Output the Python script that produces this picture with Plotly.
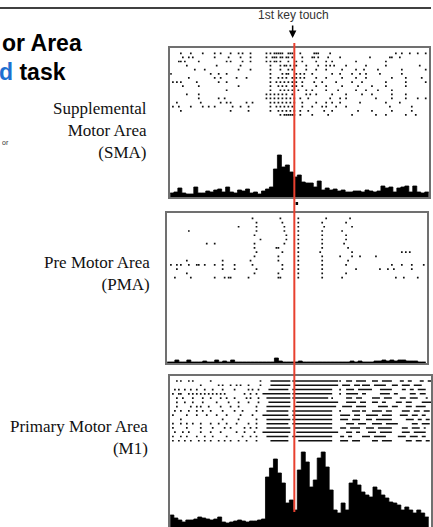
import plotly.graph_objects as go

W, H = 433, 527

# ---------------- data ----------------
T0 = -1240      # ms, time of raster bin 0 (relative to 1st key touch)
BIN = 20        # ms per raster bin
HBIN = 40       # ms per histogram bin

# Supplemental Motor Area: spike bins per trial
sma_rows = [
    [5,10,16,22,25,30,34,36,40,48,50,52,53,54,55,56,59,60,61,65,72,73,74,80,113,116,120,124,128],
    [6,9,11,22,29,35,40,48,51,52,53,55,56,58,59,61,66,71,72,74,79,85,100,110,111,115],
    [4,5,7,14,28,30,36,40,48,50,52,53,55,59,63,66,73,78,81,93,108],
    [8,23,35,50,55,57,58,60,62,63,68,74,78,80,82,88,98,108,125],
    [12,17,34,40,50,55,59,61,68,73,78,86,93,97,104,116,128],
    [0,20,24,28,50,56,58,59,63,65,67,71,81,85,91,95,98,105,116],
    [9,22,25,33,38,50,54,56,58,61,63,65,67,73,78,86,93,98,111,118,126],
    [1,3,5,13,24,28,50,53,55,57,59,61,63,66,72,76,83,91,96,108,118,128],
    [6,14,34,50,54,56,58,61,63,66,73,78,86,94,101,108,118],
    [28,50,55,57,59,61,64,68,71,78,84,93,98,104,111],
    [8,14,48,50,52,54,56,58,61,68,70,73,81,88,96,101,111,118],
    [14,24,27,48,50,52,54,56,58,60,62,65,69,80,85,88,103,111,118,124,128],
    [3,15,25,28,30,38,41,50,52,54,56,58,60,62,66,73,78,81,85,95,108,115],
    [1,4,10,16,19,22,31,35,39,50,53,55,57,59,61,66,71,76,78,83,88,110,121],
    [5,30,39,50,54,56,58,60,62,65,69,77,81,94,101,111,121],
    [55,57,58,59,60,61,62,65,71,79,91,103,108,118,123],
]
sma_hist_start = -1250
sma_hist = [4,5,9,4,3,3,10,4,4,6, 5,7,8,5,10,5,4,7,6,8,
            4,5,3,6,8,10,28,42,30,32, 25,20,22,15,14,14,10,16,7,9,
            7,8,6,7,5,5,6,6,5,7, 6,5,6,11,9,10,5,9,10,11, 5,11,5,4,5]

# Pre Motor Area
pma_rows = [
    [41,55,64,78,90],
    [43,56,64,76,88],
    [34,43,57,64,77,91],
    [9,43,57,64,76,86],
    [42,58,64,76,88],
    [45,58,64,76,88],
    [18,22,42,57,64,76,87],
    [42,53,54,64,76,89],
    [43,56,64,75,91,116,118,120],
    [42,54,64,76,85,91,95,103],
    [8,26,40,54,64,76,89],
    [0,3,5,9,13,14,17,22,26,32,41,56,64,76,88,111,116,121,127],
    [3,26,32,43,56,64,76,93,105,109,112,121],
    [8,42,54,64,76,88],
    [2,10,22,27,29,30,39,54,55,64,76,86,113,117,124],
]
pma_hist_start = -1280
pma_hist = [1,1,3,1,1,3,1,1,1,2, 1,1,3,1,2,1,3,1,1,1,
            1,1,1,1,1,1,1,5,2,1, 1,1,1,2,1,1,1,1,1,1,
            1,1,1,1,1,1,2,1,2,1, 1,1,2,2,3,2,3,2,3,3, 2,2,2,1,1]

# Primary Motor Area: isolated spikes and bursts (start bin, end bin)
m1_dots = [
    [3,5,9,11,20,45,85],
    [15,24,26,30,33,35,39,45],
    [2,4,7,10,13,17,21,26,32,39,41,44,85],
    [1,4,5,9,11,13,15,17,19,21,23,25,27,37,40,43,85],
    [3,6,11,16,20,25,28,32,38,40,44,81],
    [3,7,11,16,23,29,34,39,44],
    [3,10,13,15,19,25,30,34,43],
    [2,5,9,13,16,20,26,32,36,43,85],
    [1,8,13,18,23,28,35,41],
    [5,26,34,43],
    [1,5,8,11,15,20,24,28,33,39,43],
    [1,8,15,21,27,30,37,40,43],
    [2,6,9,15,20,25,33,37,42],
    [1,5,8,13,17,21,28,36,40,43],
    [1,4,7,10,14,17,20,24,27,30,34,38,43],
]
m1_bursts = [
    [(50,60),(61,84),(88,91),(93,98),(101,104),(106,111),(115,117),(119,121),(125,127),(129,131)],
    [(50,60),(62,84),(86,90),(92,95),(96,100),(102,108),(111,114),(116,120),(122,126)],
    [(49,59),(61,81),(88,92),(94,101),(105,111),(116,118),(120,122),(124,128)],
    [(46,60),(61,81),(88,94),(96,98),(105,110),(112,114),(120,123),(125,128)],
    [(48,60),(61,79),(88,91),(93,96),(101,105),(107,111),(115,118),(120,124),(128,129)],
    [(49,60),(63,84),(88,93),(95,98),(101,104),(106,108),(113,116),(118,121),(126,131)],
    [(48,60),(62,83),(86,91),(93,98),(104,109),(111,114),(118,121),(123,128)],
    [(48,59),(61,81),(91,95),(96,98),(101,106),(108,111),(116,120),(122,125),(127,130)],
    [(46,59),(61,81),(85,90),(92,95),(98,104),(106,111),(115,119),(121,124),(126,128)],
    [(48,60),(61,81),(85,89),(91,95),(98,101),(103,111),(118,122),(124,126),(128,130)],
    [(48,59),(61,81),(88,92),(94,98),(101,106),(108,114),(121,124),(126,130)],
    [(48,60),(62,81),(85,88),(90,95),(98,102),(104,111),(116,119),(121,125),(127,128)],
    [(46,60),(63,84),(88,91),(93,95),(99,103),(105,111),(116,120),(122,128)],
    [(48,59),(61,81),(85,87),(89,91),(96,100),(102,108),(114,118),(120,124),(126,128)],
    [(50,59),(64,81),(85,89),(91,95),(101,104),(106,111),(118,121),(123,126),(128,130)],
]
m1_hist_start = -1250
m1_hist = [12,9,7,5,7,7,8,10,9,8, 7,8,10,5,4,5,6,7,6,5,
           6,6,7,8,50,59,68,54,44,24, 27,17,57,75,65,40,47,69,75,60,
           37,17,14,24,17,44,47,42,35,32, 30,40,37,32,29,25,24,22,17,20, 17,14,17,14,10]

area_labels = ["Supplemental<br>Motor Area<br>(SMA)",
               "Pre Motor Area<br>(PMA)",
               "Primary Motor Area<br>(M1)"]
event_label = "1st key touch"

# ---------------- layout helpers ----------------
def px(x):
    return x / W

def py(y):
    return 1 - y / H

fig = go.Figure()
BLACK = "#000000"
BOX = "#707070"

panels = [
    dict(xd=(171, 431), yd=(48, 197), xr=(-1247, 1353), hr=(0, 149), rr=(-36.0, 0.29)),
    dict(xd=(168, 429), yd=(213, 363), xr=(-1277, 1333), hr=(0, 150), rr=(-35.15, 0.25)),
    dict(xd=(171, 433), yd=(376, 527), xr=(-1247, 1373), hr=(0, 151), rr=(-35.2, 0.17)),
]

def add_hist(i, start, vals):
    xs = [start + HBIN * k for k in range(len(vals) + 1)]
    ys = list(vals) + [vals[-1]]
    fig.add_trace(go.Scatter(x=xs, y=ys, mode="lines", line=dict(color=BLACK, width=0.8, shape="hv"),
                             fill="tozeroy", fillcolor=BLACK,
                             xaxis=f"x{'' if i == 0 else i + 1}", yaxis=f"y{'' if i == 0 else 2 * i + 1}",
                             showlegend=False, hoverinfo="skip"))

def add_dots(i, rows):
    xs, ys = [], []
    for r, row in enumerate(rows):
        for b in row:
            xs.append(T0 + BIN * b)
            ys.append(-(r + 1))
    fig.add_trace(go.Scatter(x=xs, y=ys, mode="markers",
                             marker=dict(symbol="square", size=1.7, color="#111111", line=dict(width=0)),
                             xaxis=f"x{'' if i == 0 else i + 1}", yaxis=f"y{2 * i + 2}",
                             showlegend=False, hoverinfo="skip"))

def add_bursts(i, rows):
    xs, ys = [], []
    for r, row in enumerate(rows):
        for (a, b) in row:
            xs += [T0 + BIN * a, T0 + BIN * b, None]
            ys += [-(r + 1), -(r + 1), None]
    fig.add_trace(go.Scatter(x=xs, y=ys, mode="lines", line=dict(color="#111111", width=1.5),
                             xaxis=f"x{'' if i == 0 else i + 1}", yaxis=f"y{2 * i + 2}",
                             showlegend=False, hoverinfo="skip"))

add_hist(0, sma_hist_start, sma_hist)
add_dots(0, sma_rows)
add_hist(1, pma_hist_start, pma_hist)
add_dots(1, pma_rows)
add_hist(2, m1_hist_start, m1_hist)
add_dots(2, m1_dots)
add_bursts(2, m1_bursts)

layout = dict(width=W, height=H, margin=dict(l=0, r=0, t=0, b=0),
              paper_bgcolor="white", plot_bgcolor="rgba(0,0,0,0)", showlegend=False)
for i, p in enumerate(panels):
    xn = "xaxis" if i == 0 else f"xaxis{i + 1}"
    yh = "yaxis" if i == 0 else f"yaxis{2 * i + 1}"
    yr = f"yaxis{2 * i + 2}"
    yh_id = "y" if i == 0 else f"y{2 * i + 1}"
    x_id = "x" if i == 0 else f"x{i + 1}"
    layout[xn] = dict(domain=[px(p["xd"][0]), px(p["xd"][1])], range=list(p["xr"]), anchor=yh_id,
                      showline=True, mirror=True, linecolor=BOX, linewidth=1.5,
                      showgrid=False, zeroline=False, showticklabels=False, ticks="")
    layout[yh] = dict(domain=[py(p["yd"][1]), py(p["yd"][0])], range=list(p["hr"]), anchor=x_id,
                      showline=True, mirror=True, linecolor=BOX, linewidth=1.5,
                      showgrid=False, zeroline=False, showticklabels=False, ticks="")
    layout[yr] = dict(overlaying=yh_id, range=list(p["rr"]), anchor=x_id,
                      showline=False, showgrid=False, zeroline=False, showticklabels=False, ticks="")
fig.update_layout(**layout)

# key-touch event line across all panels
fig.add_shape(type="line", xref="x", yref="paper", x0=0, x1=0, y0=py(43), y1=py(512),
              line=dict(color="#E8402F", width=2))
# top rule
fig.add_shape(type="line", xref="paper", yref="paper", x0=0, x1=1, y0=py(8), y1=py(8),
              line=dict(color=BLACK, width=1.5))
# small event tick between SMA and PMA
fig.add_shape(type="rect", xref="paper", yref="paper", x0=px(297), x1=px(299.5), y0=py(205), y1=py(202),
              line=dict(width=0), fillcolor=BLACK)

ann = []
ann.append(dict(text=event_label, x=px(294.5), y=py(15), xref="paper", yref="paper",
                showarrow=False, xanchor="center", yanchor="middle",
                font=dict(family="Liberation Sans, Arial", size=12, color="#333333")))
ann.append(dict(text="", x=px(294), y=py(38), xref="paper", yref="paper",
                showarrow=True, ax=0, ay=-14, arrowhead=2, arrowsize=1, arrowwidth=1.5, arrowcolor=BLACK))
ann.append(dict(text="<b>or Area</b>", x=px(84), y=py(43), xref="paper", yref="paper",
                showarrow=False, xanchor="right", yanchor="middle",
                font=dict(family="Liberation Sans, Arial", size=23, color=BLACK)))
ann.append(dict(text="<b><span style='color:#1E6FD0'>d</span> task</b>", x=px(68), y=py(72),
                xref="paper", yref="paper", showarrow=False, xanchor="right", yanchor="middle",
                font=dict(family="Liberation Sans, Arial", size=23, color=BLACK)))
ann.append(dict(text="or", x=px(0), y=py(142), xref="paper", yref="paper",
                showarrow=False, xanchor="left", yanchor="middle",
                font=dict(family="Liberation Sans, Arial", size=7, color="#333333")))
label_pos = [(150, 131), (153, 273), (151, 437)]
for lab, (lx, ly) in zip(area_labels, label_pos):
    ann.append(dict(text=lab, x=px(lx), y=py(ly), xref="paper", yref="paper",
                    showarrow=False, xanchor="right", yanchor="middle", align="right",
                    font=dict(family="Liberation Serif, Times New Roman", size=17, color="#111111")))
fig.update_layout(annotations=ann)

fig.write_html("out.html")
